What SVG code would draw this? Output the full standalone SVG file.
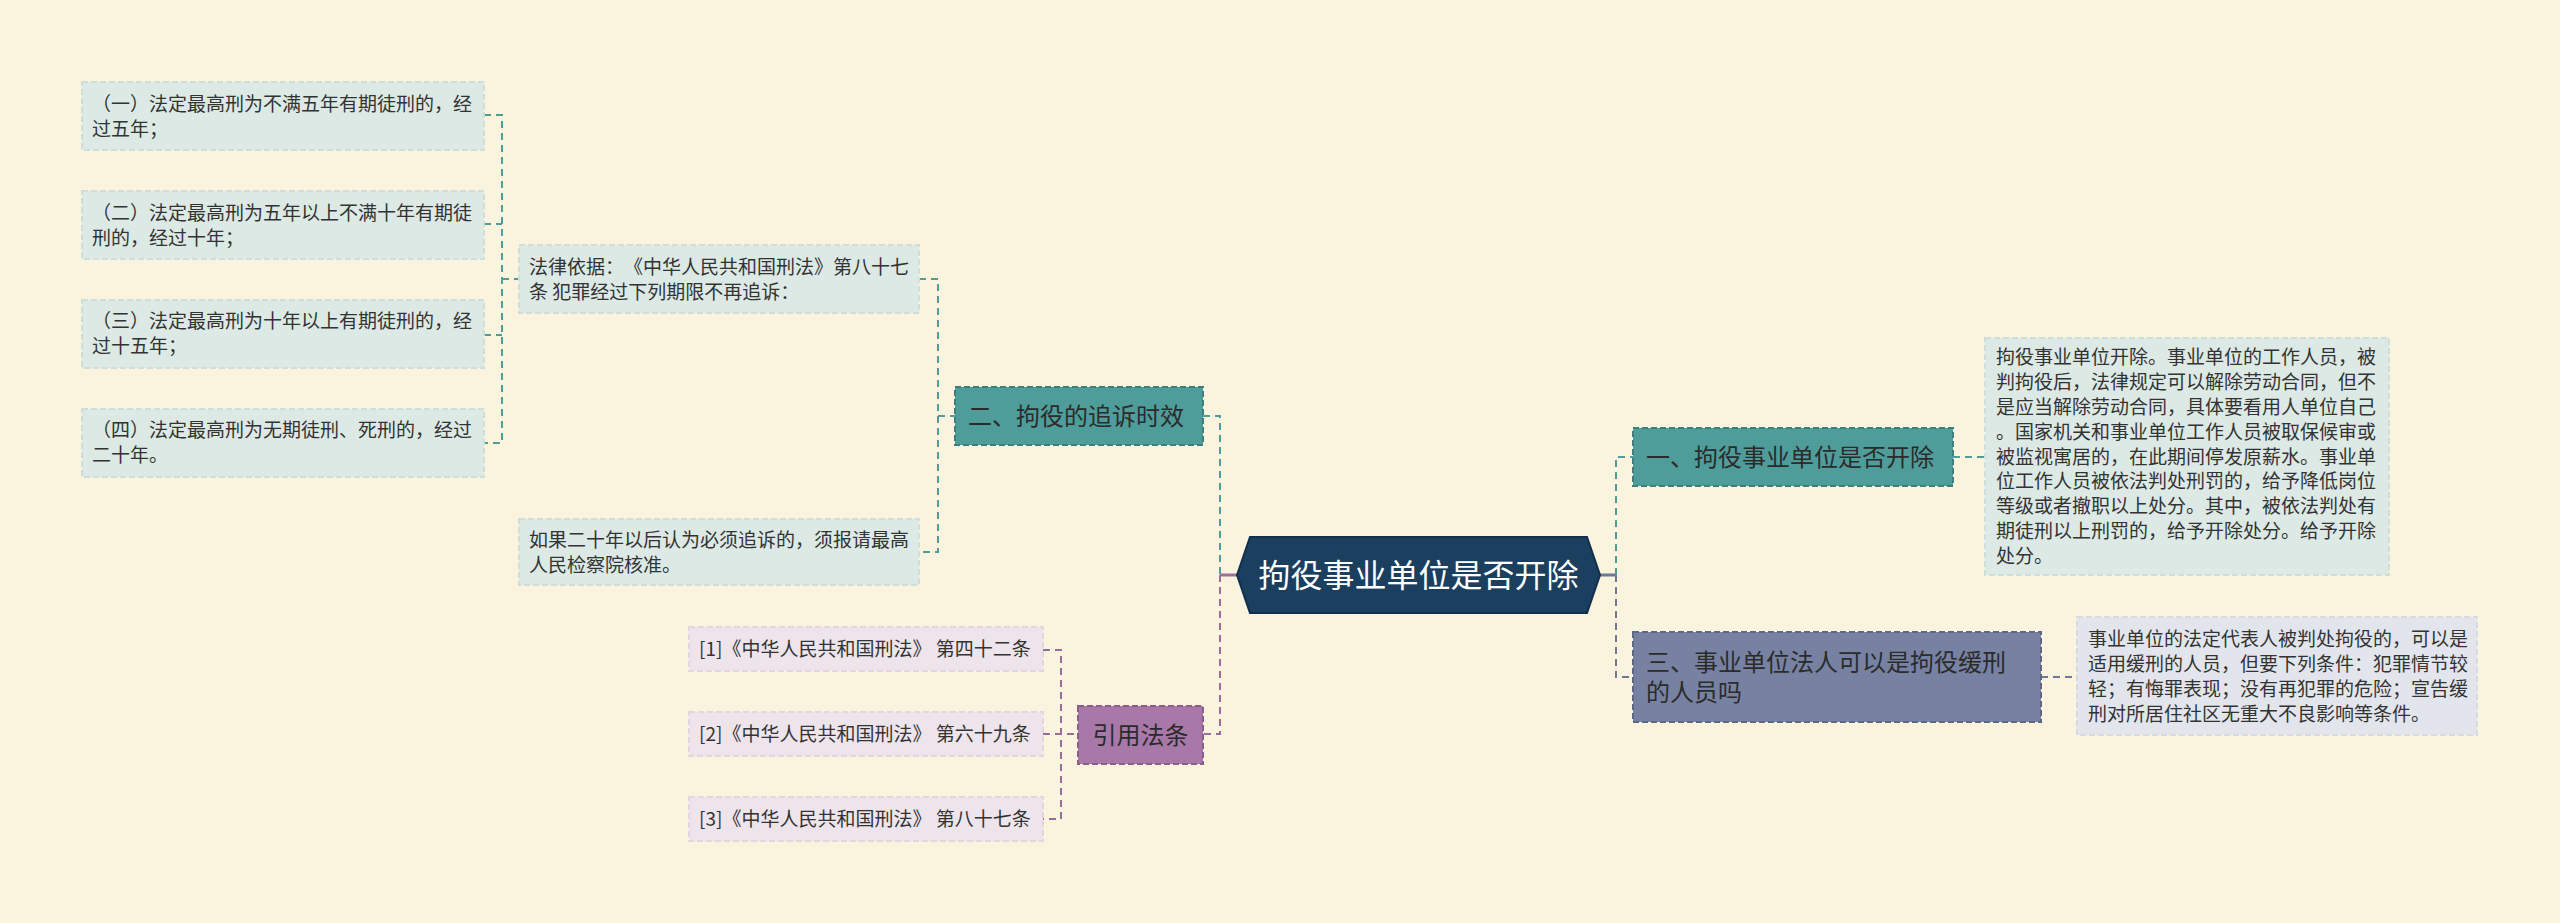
<svg xmlns="http://www.w3.org/2000/svg" width="2560" height="923" viewBox="0 0 2560 923">
<style>
text{font-family:"Noto Sans CJK SC","Noto Sans",sans-serif;fill:#333333;text-spacing-trim:space-all}
.s{font-size:19px}
.m{font-size:24px;fill:#2b2b2b}
.leaf{fill:#DCE9E5;stroke:#CFDED9;stroke-width:2;stroke-dasharray:6 3}
.cite{fill:#EEE4EC;stroke:#E3D6E1;stroke-width:2;stroke-dasharray:6 3}
.det3{fill:#E2E5EC;stroke:#D6DAE3;stroke-width:2;stroke-dasharray:6 3}
.teal{fill:#4E9D9A;stroke:#3C7F7D;stroke-width:2;stroke-dasharray:6 3}
.purp{fill:#A878A8;stroke:#8A5D8A;stroke-width:2;stroke-dasharray:6 3}
.slate{fill:#7782A3;stroke:#5E6886;stroke-width:2;stroke-dasharray:6 3}
.ct{fill:none;stroke:#4E9D9A;stroke-width:2;stroke-dasharray:7 5}
.cp{fill:none;stroke:#9A6E9A;stroke-width:2;stroke-dasharray:7 5}
.cs{fill:none;stroke:#6E7894;stroke-width:2;stroke-dasharray:7 5}
</style>
<rect width="2560" height="923" fill="#FAF4DF"/>
<g id="connectors">
<path class="ct" d="M484 115H502V443H484M484 224H502M484 335H502M502 279H519"/>
<path class="ct" d="M919 279H938V552H919M938 416H955"/>
<path class="ct" d="M1203 416H1220V575"/>
<path class="cp" d="M1220 575V734H1203"/>
<path d="M1220 575H1237" stroke="#9A6E9A" stroke-width="3" fill="none"/>
<path class="cp" d="M1043 650H1061V819H1043M1043 734H1078"/>
<path d="M1600 575H1616" stroke="#6E7894" stroke-width="3" fill="none"/>
<path class="ct" d="M1616 575V457H1633"/>
<path class="cs" d="M1616 575V677H1633"/>
<path class="ct" d="M1953 457H1985"/>
<path class="cs" d="M2041 677H2077"/>
</g>
<g id="root">
<polygon points="1237,575 1250,537 1587,537 1600,575 1587,613 1250,613" fill="#1B3F5F" stroke="#10304B" stroke-width="2"/>
<text x="1418.5" y="587" text-anchor="middle" style="font-size:32px;fill:#ffffff">拘役事业单位是否开除</text>
</g>
<g id="n-er">
<rect class="teal" x="955" y="387" width="248" height="58"/>
<text class="m" x="968" y="425">二、拘役的追诉时效</text>
</g>
<g id="n-basis">
<rect class="leaf" x="519" y="245" width="400" height="68"/>
<text class="s" x="529" y="274">法律依据：《中华人民共和国刑法》第八十七</text>
<text class="s" x="529" y="299">条 犯罪经过下列期限不再追诉：</text>
</g>
<g id="n-l1">
<rect class="leaf" x="82" y="82" width="402" height="68"/>
<text class="s" x="92" y="111">（一）法定最高刑为不满五年有期徒刑的，经</text>
<text class="s" x="92" y="136">过五年；</text>
</g>
<g id="n-l2">
<rect class="leaf" x="82" y="191" width="402" height="68"/>
<text class="s" x="92" y="220">（二）法定最高刑为五年以上不满十年有期徒</text>
<text class="s" x="92" y="245">刑的，经过十年；</text>
</g>
<g id="n-l3">
<rect class="leaf" x="82" y="300" width="402" height="68"/>
<text class="s" x="92" y="328">（三）法定最高刑为十年以上有期徒刑的，经</text>
<text class="s" x="92" y="353">过十五年；</text>
</g>
<g id="n-l4">
<rect class="leaf" x="82" y="409" width="402" height="68"/>
<text class="s" x="92" y="437">（四）法定最高刑为无期徒刑、死刑的，经过</text>
<text class="s" x="92" y="462">二十年。</text>
</g>
<g id="n-ruguo">
<rect class="leaf" x="519" y="519" width="400" height="66"/>
<text class="s" x="529" y="547">如果二十年以后认为必须追诉的，须报请最高</text>
<text class="s" x="529" y="572">人民检察院核准。</text>
</g>
<g id="n-cite">
<rect class="purp" x="1078" y="706" width="125" height="58"/>
<text class="m" x="1140.5" y="744" text-anchor="middle">引用法条</text>
</g>
<g id="n-c1">
<rect class="cite" x="689" y="627" width="354" height="44"/>
<text class="s" x="699" y="656">[1]《中华人民共和国刑法》 第四十二条</text>
</g>
<g id="n-c2">
<rect class="cite" x="689" y="712" width="354" height="44"/>
<text class="s" x="699" y="741">[2]《中华人民共和国刑法》 第六十九条</text>
</g>
<g id="n-c3">
<rect class="cite" x="689" y="797" width="354" height="44"/>
<text class="s" x="699" y="826">[3]《中华人民共和国刑法》 第八十七条</text>
</g>
<g id="n-yi">
<rect class="teal" x="1633" y="428" width="320" height="58"/>
<text class="m" x="1646" y="466">一、拘役事业单位是否开除</text>
</g>
<g id="n-d1">
<rect class="leaf" x="1985" y="338" width="404" height="237"/>
<text class="s" x="1996" y="364.3">拘役事业单位开除。事业单位的工作人员，被</text>
<text class="s" x="1996" y="389.1">判拘役后，法律规定可以解除劳动合同，但不</text>
<text class="s" x="1996" y="413.9">是应当解除劳动合同，具体要看用人单位自己</text>
<text class="s" x="1996" y="438.7">。国家机关和事业单位工作人员被取保候审或</text>
<text class="s" x="1996" y="463.5">被监视寓居的，在此期间停发原薪水。事业单</text>
<text class="s" x="1996" y="488.3">位工作人员被依法判处刑罚的，给予降低岗位</text>
<text class="s" x="1996" y="513.1">等级或者撤职以上处分。其中，被依法判处有</text>
<text class="s" x="1996" y="537.9">期徒刑以上刑罚的，给予开除处分。给予开除</text>
<text class="s" x="1996" y="562.7">处分。</text>
</g>
<g id="n-san">
<rect class="slate" x="1633" y="632" width="408" height="90"/>
<text class="m" x="1646" y="671">三、事业单位法人可以是拘役缓刑</text>
<text class="m" x="1646" y="701">的人员吗</text>
</g>
<g id="n-d3">
<rect class="det3" x="2077" y="617" width="400" height="118"/>
<text class="s" x="2088" y="645.5">事业单位的法定代表人被判处拘役的，可以是</text>
<text class="s" x="2088" y="670.5">适用缓刑的人员，但要下列条件：犯罪情节较</text>
<text class="s" x="2088" y="695.5">轻；有悔罪表现；没有再犯罪的危险；宣告缓</text>
<text class="s" x="2088" y="720.5">刑对所居住社区无重大不良影响等条件。</text>
</g>
</svg>
